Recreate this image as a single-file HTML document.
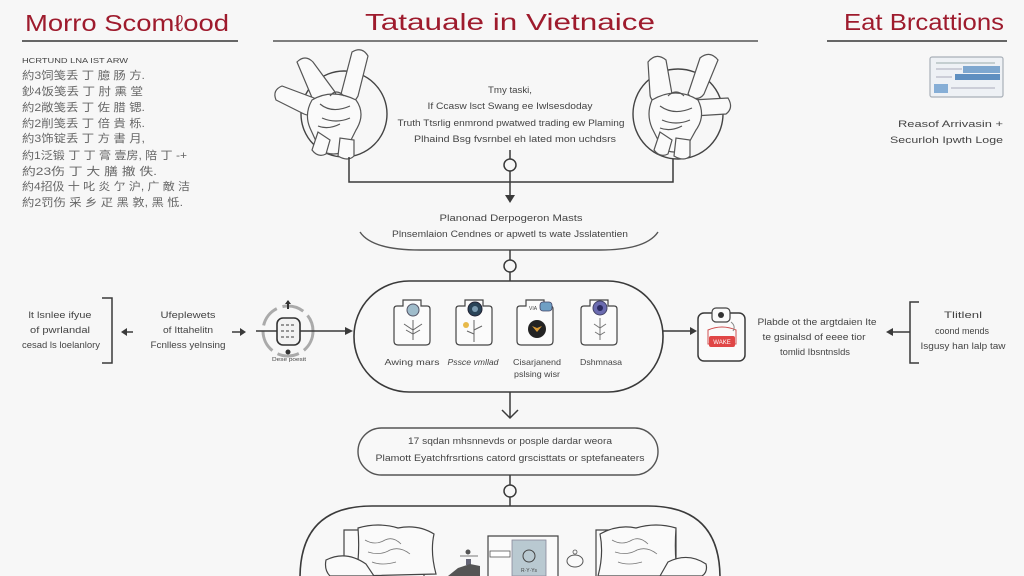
<!DOCTYPE html>
<html><head><meta charset="utf-8"><style>
html,body{margin:0;padding:0;background:#f7f7f7;width:1024px;height:576px;overflow:hidden;}
svg{display:block;}
.t{font-family:"Liberation Sans","Noto Sans CJK SC",sans-serif;fill:#444;}
.h{font-family:"Liberation Sans",sans-serif;fill:#9e1b2d;font-size:23px;}
.s{font-size:9px;}
.c{font-family:"Liberation Sans","Noto Sans CJK SC",sans-serif;fill:#666;font-size:11px;}
</style></head><body>
<svg width="1024" height="576" viewBox="0 0 1024 576" xmlns="http://www.w3.org/2000/svg" style="overflow:hidden">
<rect width="1024" height="576" fill="#f7f7f7"/>
<!-- headers -->
<text class="h" x="25" y="31" textLength="204" lengthAdjust="spacingAndGlyphs">Morro Scomℓood</text>
<line x1="22" y1="41" x2="238" y2="41" stroke="#666" stroke-width="2"/>
<text class="h" x="365" y="30" textLength="290" lengthAdjust="spacingAndGlyphs">Tatauale in Vietnaice</text>
<line x1="273" y1="41" x2="758" y2="41" stroke="#555" stroke-width="1.6"/>
<text class="h" x="844" y="30" textLength="160" lengthAdjust="spacingAndGlyphs">Eat Brcattions</text>
<line x1="827" y1="41" x2="1007" y2="41" stroke="#666" stroke-width="2"/>

<!-- left list -->
<text class="t" x="22" y="63" font-size="7.5" fill="#666" textLength="106" lengthAdjust="spacingAndGlyphs">HCRTUND LNA IST ARW</text>
<text class="c" x="22" y="79" textLength="123" lengthAdjust="spacingAndGlyphs">約3饲笺丢 丁 臆 肠 方.</text>
<text class="c" x="22" y="95" textLength="121" lengthAdjust="spacingAndGlyphs">鈔4饭笺丢 丁 肘 熏 堂</text>
<text class="c" x="22" y="111" textLength="123" lengthAdjust="spacingAndGlyphs">約2敞笺丢 丁 佐 腊 锶.</text>
<text class="c" x="22" y="127" textLength="123" lengthAdjust="spacingAndGlyphs">約2削笺丢 丁 倍 貴 栎.</text>
<text class="c" x="22" y="142" textLength="123" lengthAdjust="spacingAndGlyphs">約3饰锭丢 丁 方 書 月,</text>
<text class="c" x="22" y="159" textLength="165" lengthAdjust="spacingAndGlyphs">約1泛锻 丁 丁 膏 壹房, 陪 丁 -+</text>
<text class="c" x="22" y="175" textLength="135" lengthAdjust="spacingAndGlyphs">約23伤 丁 大 膳 撤 佚.</text>
<text class="c" x="22" y="190" textLength="168" lengthAdjust="spacingAndGlyphs">約4招伋 十 叱 炎 亇 沪, 广 敵 洁</text>
<text class="c" x="22" y="206" textLength="161" lengthAdjust="spacingAndGlyphs">約2罚伤 采 乡 疋 黑 敦, 黑 怟.</text>

<!-- right thumbnail -->
<rect x="930" y="57" width="73" height="40" rx="2" fill="#eef1f5" stroke="#a9b0b8" stroke-width="1.2"/>
<line x1="936" y1="63" x2="995" y2="63" stroke="#9aa" stroke-width="1"/>
<line x1="936" y1="69" x2="962" y2="69" stroke="#aab" stroke-width="1"/>
<rect x="963" y="66" width="37" height="7" fill="#7ea7cf"/>
<rect x="955" y="74" width="45" height="6" fill="#5f8fc0"/>
<line x1="936" y1="77" x2="952" y2="77" stroke="#aab" stroke-width="1"/>
<rect x="934" y="84" width="14" height="9" fill="#86aed6"/>
<line x1="951" y1="88" x2="995" y2="88" stroke="#aab" stroke-width="1"/>
<text class="t s" x="1003" y="127" text-anchor="end" fill="#555" textLength="105" lengthAdjust="spacingAndGlyphs">Reasof Arrivasin +</text>
<text class="t s" x="1003" y="143" text-anchor="end" fill="#555" textLength="113" lengthAdjust="spacingAndGlyphs">Securloh Ipwth Loge</text>

<!-- top figures -->
<g stroke="#444" stroke-width="1.4" fill="none">
<circle cx="344" cy="114" r="43"/>
<circle cx="678" cy="114" r="45"/>
</g>
<g stroke="#555" stroke-width="1.2" fill="#fafafa">
<!-- left figure -->
<path d="M297,62 q8,-8 16,0 l22,30 q4,8 -4,12 l-10,2 q-6,0 -8,-6 z"/>
<path d="M276,100 q-4,-10 6,-14 l32,12 q6,4 2,12 l-4,4 q-4,2 -8,0 z"/>
<path d="M352,52 q10,-6 16,4 l-10,40 q-4,8 -12,6 l-6,-4 z"/>
<path d="M312,100 q20,-12 44,0 q10,14 0,30 l-10,20 q-12,8 -26,0 l-10,-22 q-6,-14 2,-28 z"/>
<path d="M318,132 l-6,18 q6,8 14,4 l4,-14 z"/>
<path d="M340,138 l-2,18 q10,6 16,0 l0,-16 z"/>
<path d="M320,104 q12,10 30,2 M322,118 q14,6 28,0 M330,96 q6,-8 14,0 M318,126 q10,4 22,-2" fill="none"/>
<!-- right figure -->
<path d="M648,62 q8,-10 18,-2 l6,34 q0,8 -8,8 l-8,0 q-6,-2 -6,-8 z"/>
<path d="M700,58 q10,-8 18,2 l-14,34 q-4,6 -12,4 l-4,-4 z"/>
<path d="M728,98 q6,10 -2,16 l-32,2 q-8,-2 -6,-10 l4,-6 z"/>
<path d="M652,100 q24,-14 46,0 q8,16 -2,30 l-10,18 q-12,8 -24,0 l-10,-20 q-6,-14 0,-28 z"/>
<path d="M660,132 l-6,18 q6,8 14,4 l4,-14 z"/>
<path d="M676,138 l-2,18 q10,6 16,0 l0,-16 z"/>
<path d="M660,106 q14,10 32,2 M662,120 q14,6 28,0 M668,96 q8,-8 16,0 M660,128 q10,4 22,-2" fill="none"/>
</g>

<!-- top connectors -->
<g stroke="#3a3a3a" stroke-width="1.5" fill="none">
<polyline points="349,157 349,182 673,182 673,159"/>
<line x1="510" y1="150" x2="510" y2="159"/>
<circle cx="510" cy="165" r="6" fill="#f7f7f7"/>
<line x1="510" y1="171" x2="510" y2="197"/>
</g>
<polygon points="505,195 515,195 510,203" fill="#3a3a3a"/>

<!-- top center text -->
<text class="t s" x="510" y="93" text-anchor="middle" textLength="44" lengthAdjust="spacingAndGlyphs">Tmy taski,</text>
<text class="t s" x="510" y="109" text-anchor="middle" textLength="165" lengthAdjust="spacingAndGlyphs">If Ccasw lsct Swang ee Iwlsesdoday</text>
<text class="t s" x="511" y="126" text-anchor="middle" textLength="227" lengthAdjust="spacingAndGlyphs">Truth Ttsrlig enmrond pwatwed trading ew Plaming</text>
<text class="t s" x="515" y="142" text-anchor="middle" textLength="202" lengthAdjust="spacingAndGlyphs">Plhaind Bsg fvsrnbel eh lated mon uchdsrs</text>

<!-- bowl -->
<text class="t s" x="511" y="221" text-anchor="middle" textLength="143" lengthAdjust="spacingAndGlyphs">Planonad Derpogeron Masts</text>
<text class="t s" x="510" y="237" text-anchor="middle" textLength="236" lengthAdjust="spacingAndGlyphs">Plnsemlaion Cendnes or apwetl ts wate Jsslatentien</text>
<path d="M360,232 Q372,250 420,250 L600,250 Q646,250 658,232" fill="none" stroke="#555" stroke-width="1.4"/>
<g stroke="#3a3a3a" stroke-width="1.5" fill="none">
<line x1="510" y1="250" x2="510" y2="260"/>
<circle cx="510" cy="266" r="6" fill="#f7f7f7"/>
<line x1="510" y1="272" x2="510" y2="281"/>
</g>

<!-- main pill -->
<rect x="354" y="281" width="309" height="111" rx="55" fill="#f8f8f8" stroke="#3a3a3a" stroke-width="1.6"/>
<g stroke="#444" stroke-width="1.2" fill="#fbfbfb">
<path d="M397,306 h6 v-6 h18 v6 h6 q3,0 3,3 v32 q0,4 -4,4 h-28 q-4,0 -4,-4 v-32 q0,-3 3,-3 z"/>
<path d="M459,306 h6 v-6 h18 v6 h6 q3,0 3,3 v32 q0,4 -4,4 h-28 q-4,0 -4,-4 v-32 q0,-3 3,-3 z"/>
<path d="M520,306 h6 v-6 h18 v6 h6 q3,0 3,3 v32 q0,4 -4,4 h-28 q-4,0 -4,-4 v-32 q0,-3 3,-3 z"/>
<path d="M584,306 h6 v-6 h18 v6 h6 q3,0 3,3 v32 q0,4 -4,4 h-28 q-4,0 -4,-4 v-32 q0,-3 3,-3 z"/>
</g>
<circle cx="413" cy="310" r="6" fill="#9fbccb" stroke="#556" stroke-width="1"/>
<path d="M413,320 v20 M404,324 l9,6 l9,-6 M406,330 l7,4 l7,-4" stroke="#666" stroke-width="1" fill="none"/>
<circle cx="475" cy="309" r="7" fill="#2a4458" stroke="#223" stroke-width="1"/>
<circle cx="475" cy="309" r="3" fill="#7a9ab0"/>
<circle cx="466" cy="325" r="3" fill="#e7b94a"/>
<path d="M474,320 v22 M474,330 l8,-4 M474,334 l-7,-3" stroke="#666" stroke-width="1" fill="none"/>
<rect x="540" y="302" width="12" height="9" rx="3" fill="#6f9fc4" stroke="#446" stroke-width="0.8"/>
<text class="t" x="529" y="310" font-size="5" fill="#556">VIA</text>
<circle cx="537" cy="329" r="9" fill="#232323"/>
<path d="M532,326 l5,6 l5,-6 l-5,2 z" fill="#d99a35"/>
<circle cx="600" cy="308" r="7" fill="#6b6bb0" stroke="#446" stroke-width="1"/>
<circle cx="600" cy="308" r="3" fill="#2a2a60"/>
<path d="M600,318 v22 M594,324 l6,4 l6,-4 M595,332 l5,3 l5,-3" stroke="#777" stroke-width="1" fill="none"/>
<text class="t" x="412" y="365" text-anchor="middle" font-size="8.5" textLength="55" lengthAdjust="spacingAndGlyphs">Awing mars</text>
<text class="t" x="473" y="365" text-anchor="middle" font-size="8.5" font-style="italic" textLength="51" lengthAdjust="spacingAndGlyphs">Pssce vmllad</text>
<text class="t" x="537" y="365" text-anchor="middle" font-size="8.5" textLength="48" lengthAdjust="spacingAndGlyphs">Cisarjanend</text>
<text class="t" x="537" y="377" text-anchor="middle" font-size="8.5" textLength="46" lengthAdjust="spacingAndGlyphs">pslsing wisr</text>
<text class="t" x="601" y="365" text-anchor="middle" font-size="8.5" textLength="42" lengthAdjust="spacingAndGlyphs">Dshmnasa</text>

<!-- pill -> second pill -->
<g stroke="#3a3a3a" stroke-width="1.5" fill="none">
<line x1="510" y1="392" x2="510" y2="418"/>
<polyline points="502,410 510,418 518,410"/>
</g>
<rect x="358" y="428" width="300" height="47" rx="23.5" fill="#f8f8f8" stroke="#555" stroke-width="1.4"/>
<text class="t s" x="510" y="444" text-anchor="middle" textLength="204" lengthAdjust="spacingAndGlyphs">17 sqdan mhsnnevds or posple dardar weora</text>
<text class="t s" x="510" y="461" text-anchor="middle" textLength="269" lengthAdjust="spacingAndGlyphs">Plamott Eyatchfrsrtions catord grscisttats or sptefaneaters</text>
<g stroke="#3a3a3a" stroke-width="1.5" fill="none">
<line x1="510" y1="475" x2="510" y2="485"/>
<circle cx="510" cy="491" r="6" fill="#f7f7f7"/>
<line x1="510" y1="497" x2="510" y2="506"/>
</g>

<!-- bottom pill (clipped at frame edge) -->
<path d="M300,576 L300,578 L300,578 Q300,506 372,506 L648,506 Q720,506 720,578" fill="#f8f8f8" stroke="#3a3a3a" stroke-width="1.6"/>
<g stroke="#444" stroke-width="1.2" fill="#fafafa">
<path d="M344,576 V530 H424 V576"/>
<path d="M358,528 q20,-6 40,0 q20,-4 36,6 q-4,18 2,40 l-80,2 q4,-22 2,-48 z"/>
<path d="M326,560 q20,-10 40,4 l8,12 h-44 q-6,-6 -4,-16 z"/>
<path d="M596,576 V530 H676 V576"/>
<path d="M600,534 q18,-10 36,-6 q20,-6 40,0 q-2,28 2,48 h-80 q6,-22 2,-42 z"/>
<path d="M660,576 l8,-14 q20,-10 38,2 q2,8 -4,12 z"/>
<path d="M488,576 V536 H558 V576"/>
</g>
<g stroke="#777" stroke-width="0.8" fill="none">
<path d="M365,540 q10,6 20,0 q8,-4 16,4 M368,552 q12,4 22,-2 q10,-4 20,4 M372,562 q10,4 24,0"/>
<path d="M612,540 q10,6 20,0 q8,-4 16,4 M615,552 q12,4 22,-2 q10,-4 20,4 M618,562 q10,4 24,0"/>
</g>
<rect x="512" y="540" width="34" height="36" fill="#b9c9d1" stroke="#889" stroke-width="0.8"/>
<circle cx="529" cy="556" r="6" fill="none" stroke="#444" stroke-width="1"/>
<text class="t" x="529" y="572" text-anchor="middle" font-size="5">R·Y·Ys</text>
<rect x="490" y="551" width="20" height="6" fill="#fff" stroke="#555" stroke-width="0.8"/>
<circle cx="468" cy="552" r="2.5" fill="#555"/>
<line x1="460" y1="556" x2="478" y2="556" stroke="#777" stroke-width="1"/>
<rect x="466" y="559" width="5" height="6" fill="#667"/>
<path d="M448,576 l10,-8 l12,-4 l10,2 l0,10 z" fill="#555"/>
<ellipse cx="575" cy="561" rx="8" ry="6" fill="#fafafa" stroke="#555" stroke-width="1"/>
<circle cx="575" cy="552" r="2" fill="none" stroke="#555" stroke-width="0.8"/>

<!-- left side -->
<text class="t s" x="60" y="318" text-anchor="middle" textLength="63" lengthAdjust="spacingAndGlyphs">lt lsnlee ifyue</text>
<text class="t s" x="60" y="333" text-anchor="middle" textLength="60" lengthAdjust="spacingAndGlyphs">of pwrlandal</text>
<text class="t s" x="61" y="348" text-anchor="middle" textLength="78" lengthAdjust="spacingAndGlyphs">cesad ls loelanlory</text>
<polyline points="102,298 112,298 112,363 102,363" fill="none" stroke="#3a3a3a" stroke-width="1.5"/>
<line x1="125" y1="332" x2="133" y2="332" stroke="#3a3a3a" stroke-width="1.5"/>
<polygon points="121,332 127,328 127,336" fill="#3a3a3a"/>
<text class="t s" x="188" y="318" text-anchor="middle" textLength="55" lengthAdjust="spacingAndGlyphs">Ufeplewets</text>
<text class="t s" x="188" y="333" text-anchor="middle" textLength="50" lengthAdjust="spacingAndGlyphs">of Ittahelitn</text>
<text class="t s" x="188" y="348" text-anchor="middle" textLength="75" lengthAdjust="spacingAndGlyphs">Fcnlless yelnsing</text>
<line x1="232" y1="332" x2="241" y2="332" stroke="#3a3a3a" stroke-width="1.5"/>
<polygon points="246,332 240,328 240,336" fill="#3a3a3a"/>
<circle cx="288" cy="331" r="25" fill="none" stroke="#aaa" stroke-width="3" stroke-dasharray="22 6"/>
<line x1="256" y1="331" x2="346" y2="331" stroke="#3a3a3a" stroke-width="1.4"/>
<polygon points="353,331 345,327 345,335" fill="#3a3a3a"/>
<rect x="277" y="318" width="23" height="27" rx="6" fill="#f2f2f2" stroke="#333" stroke-width="1.6"/>
<path d="M281,325 h15 M281,331 h15 M281,337 h15" stroke="#777" stroke-width="1.4" stroke-dasharray="3 2"/>
<line x1="288" y1="301" x2="288" y2="309" stroke="#333" stroke-width="2"/>
<polygon points="285,304 291,304 288,300" fill="#333"/>
<circle cx="288" cy="352" r="2.5" fill="#333"/>
<text class="t" x="289" y="361" text-anchor="middle" font-size="5.5" fill="#666" textLength="34" lengthAdjust="spacingAndGlyphs">Dese poesit</text>

<!-- right side -->
<line x1="663" y1="331" x2="691" y2="331" stroke="#3a3a3a" stroke-width="1.5"/>
<polygon points="697,331 690,327 690,335" fill="#3a3a3a"/>
<rect x="698" y="313" width="47" height="48" rx="6" fill="#fafafa" stroke="#3a3a3a" stroke-width="1.5"/>
<rect x="712" y="308" width="18" height="14" rx="4" fill="#fafafa" stroke="#444" stroke-width="1.2"/>
<circle cx="721" cy="315" r="3" fill="#333"/>
<path d="M708,330 q14,-6 28,0 v14 h-28 z" fill="#fafafa" stroke="#d05050" stroke-width="1"/>
<rect x="709" y="336" width="26" height="11" rx="2" fill="#e04646"/>
<text x="722" y="344" text-anchor="middle" font-family="Liberation Sans,sans-serif" font-size="6" fill="#fff">WAKE</text>
<path d="M731,322 q5,4 2,9" fill="none" stroke="#888" stroke-width="1"/>
<text class="t s" x="817" y="325" text-anchor="middle" textLength="119" lengthAdjust="spacingAndGlyphs">Plabde ot the argtdaien Ite</text>
<text class="t s" x="814" y="340" text-anchor="middle" textLength="103" lengthAdjust="spacingAndGlyphs">te gsinalsd of eeee tior</text>
<text class="t s" x="815" y="355" text-anchor="middle" textLength="70" lengthAdjust="spacingAndGlyphs">tomlid Ibsntnslds</text>
<line x1="892" y1="332" x2="910" y2="332" stroke="#3a3a3a" stroke-width="1.5"/>
<polygon points="886,332 893,328 893,336" fill="#3a3a3a"/>
<polyline points="919,302 910,302 910,363 919,363" fill="none" stroke="#3a3a3a" stroke-width="1.5"/>
<text class="t s" x="963" y="318" text-anchor="middle" textLength="38" lengthAdjust="spacingAndGlyphs">Tlitlenl</text>
<text class="t s" x="962" y="334" text-anchor="middle" textLength="54" lengthAdjust="spacingAndGlyphs">coond mends</text>
<text class="t s" x="963" y="349" text-anchor="middle" textLength="85" lengthAdjust="spacingAndGlyphs">Isgusy han lalp taw</text>
</svg>
</body></html>
